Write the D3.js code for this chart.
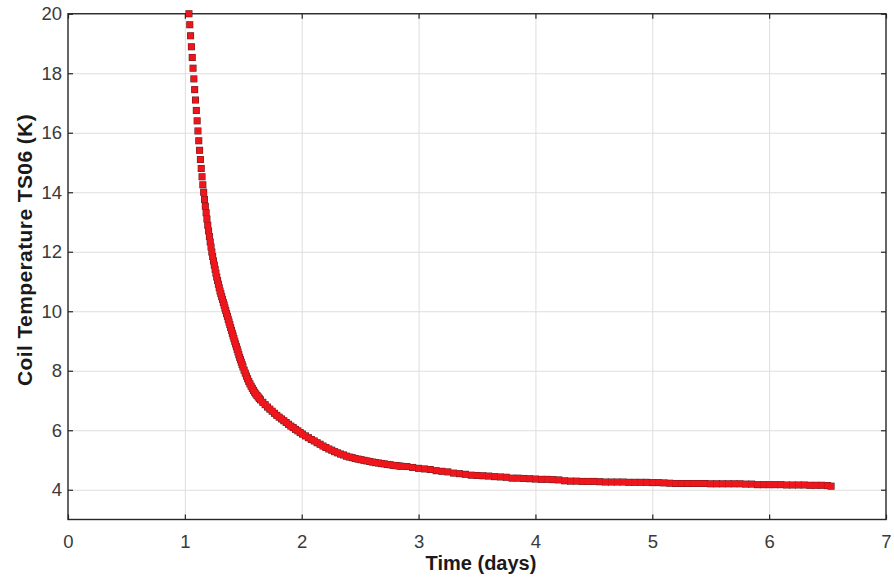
<!DOCTYPE html>
<html>
<head>
<meta charset="utf-8">
<script src="https://d3js.org/d3.v7.min.js"></script>
<style>
    body { margin: 0; background: #fff; }
    svg { display: block; font-family: "Liberation Sans", Arial, Helvetica, sans-serif; }
    .tick text { fill: #3a3a3a; font-size: 18.5px; }
    .label { fill: #1a1a1a; font-weight: bold; font-size: 20px; }
</style>
</head>
<body>
<div id="chart"></div>
<script>
"use strict";

// Time (days) and coil temperature (K)
let timeDays = [
    1.035, 1.042, 1.049, 1.056, 1.063, 1.070, 1.077, 1.084, 1.091, 1.098,
    1.105, 1.112, 1.119, 1.126, 1.133, 1.140, 1.147, 1.154, 1.161, 1.168,
    1.175, 1.182, 1.189, 1.196, 1.203, 1.210, 1.217, 1.224, 1.231, 1.238,
    1.245, 1.252, 1.259, 1.266, 1.273, 1.280, 1.287, 1.294, 1.301,
    1.308, 1.315, 1.322, 1.329, 1.336, 1.343, 1.350, 1.357, 1.364, 1.371,
    1.378, 1.385, 1.392, 1.399, 1.406, 1.413, 1.420, 1.427, 1.434, 1.441,
    1.448, 1.455, 1.462, 1.469, 1.476, 1.483, 1.490, 1.497,
    1.507, 1.517, 1.527, 1.537, 1.547, 1.557, 1.567, 1.577, 1.587, 1.597,
    1.607, 1.617, 1.627, 1.637, 1.647,
    1.667, 1.687, 1.707, 1.727, 1.747, 1.767, 1.787, 1.807, 1.827, 1.847,
    1.867, 1.887, 1.907, 1.927, 1.947, 1.967, 1.987, 2.007,
    2.032, 2.057, 2.082, 2.107, 2.132, 2.157, 2.182, 2.207, 2.232, 2.257,
    2.282, 2.307, 2.332, 2.357, 2.382, 2.407, 2.432, 2.457, 2.482, 2.507,
    2.532, 2.557, 2.582, 2.607, 2.632, 2.657, 2.682, 2.707, 2.732, 2.757,
    2.782, 2.807, 2.832,
    2.85, 2.90, 2.95, 3.00, 3.05, 3.10, 3.15, 3.20, 3.25, 3.30,
    3.35, 3.40, 3.45, 3.50, 3.55, 3.60, 3.65, 3.70, 3.75, 3.80,
    3.85, 3.90, 3.95, 4.00, 4.05, 4.10, 4.15, 4.20, 4.25, 4.30,
    4.35, 4.40, 4.45, 4.50, 4.55, 4.60, 4.65, 4.70, 4.75, 4.80,
    4.85, 4.90, 4.95, 5.00, 5.05, 5.10, 5.15, 5.20, 5.25, 5.30,
    5.35, 5.40, 5.45, 5.50, 5.55, 5.60, 5.65, 5.70, 5.75, 5.80,
    5.85, 5.90, 5.95, 6.00, 6.05, 6.10, 6.15, 6.20, 6.25, 6.30,
    6.35, 6.40, 6.45, 6.50, 6.53
];

let coilTemp = [
    20.00, 19.63, 19.26, 18.89, 18.53, 18.17, 17.81, 17.45, 17.10, 16.75,
    16.40, 16.06, 15.73, 15.41, 15.10, 14.80, 14.52, 14.25, 14.00, 13.76,
    13.53, 13.31, 13.10, 12.89, 12.70, 12.51, 12.33, 12.16, 11.99, 11.84,
    11.69, 11.55, 11.41, 11.28, 11.15, 11.03, 10.91, 10.79, 10.68,
    10.59, 10.49, 10.40, 10.30, 10.21, 10.11, 10.02, 9.92, 9.83, 9.73,
    9.64, 9.55, 9.45, 9.36, 9.26, 9.17, 9.08, 8.99, 8.90, 8.81,
    8.72, 8.63, 8.54, 8.45, 8.37, 8.29, 8.21, 8.13,
    8.02, 7.92, 7.82, 7.73, 7.64, 7.56, 7.48, 7.41, 7.34, 7.28,
    7.22, 7.17, 7.12, 7.07, 7.02,
    6.94, 6.86, 6.78, 6.71, 6.64, 6.57, 6.50, 6.44, 6.38, 6.32,
    6.26, 6.20, 6.14, 6.09, 6.03, 5.98, 5.92, 5.87,
    5.81, 5.75, 5.69, 5.64, 5.58, 5.53, 5.47, 5.42, 5.37, 5.33,
    5.28, 5.24, 5.20, 5.17, 5.13, 5.10, 5.08, 5.05, 5.03, 5.01,
    4.99, 4.97, 4.95, 4.93, 4.91, 4.90, 4.88, 4.87, 4.85, 4.84,
    4.82, 4.81, 4.80,
    4.79, 4.78, 4.75, 4.72, 4.70, 4.68, 4.64, 4.62, 4.60, 4.56,
    4.54, 4.52, 4.49, 4.48, 4.47, 4.46, 4.44, 4.43, 4.42, 4.39,
    4.39, 4.38, 4.37, 4.36, 4.35, 4.35, 4.34, 4.33, 4.30, 4.29,
    4.29, 4.28, 4.28, 4.28, 4.27, 4.26, 4.26, 4.26, 4.26, 4.25,
    4.25, 4.25, 4.25, 4.24, 4.24, 4.23, 4.22, 4.21, 4.21, 4.21,
    4.21, 4.21, 4.21, 4.20, 4.20, 4.20, 4.20, 4.20, 4.20, 4.19,
    4.19, 4.17, 4.17, 4.17, 4.17, 4.17, 4.16, 4.16, 4.16, 4.16,
    4.15, 4.15, 4.15, 4.14, 4.12
];

let xTicks = [0, 1, 2, 3, 4, 5, 6, 7];
let yTicks = [4, 6, 8, 10, 12, 14, 16, 18, 20];

function drawChart() {

    let width = 894;
    let height = 582;
    let left = 68;
    let right = 886;
    let top = 13.75;
    let bottom = 519.5;
    let markerSize = 6;
    let edgeSize = 7;

    let xScale = d3.scaleLinear().domain([0, 7]).range([left, right]);
    let yScale = d3.scaleLinear().domain([3, 20]).range([bottom, top]);

    let svg = d3.select("#chart").append("svg")
        .attr("width", width).attr("height", height);

    // Grid lines
    svg.append("g").attr("class", "grid")
        .attr("transform", `translate(0,${bottom})`)
        .call(d3.axisBottom(xScale).tickValues(xTicks.slice(1, -1))
            .tickSize(-(bottom - top)).tickFormat(""));
    svg.append("g").attr("class", "grid")
        .attr("transform", `translate(${left},0)`)
        .call(d3.axisLeft(yScale).tickValues(yTicks.slice(0, -1))
            .tickSize(-(right - left)).tickFormat(""));
    svg.selectAll(".grid .domain").remove();
    svg.selectAll(".grid line").attr("stroke", "#dedede").attr("stroke-width", 1);

    // Axes with inward ticks on all four sides
    let xAxis = svg.append("g").attr("transform", `translate(0,${bottom})`)
        .call(d3.axisBottom(xScale).tickValues(xTicks)
            .tickSizeInner(-5).tickSizeOuter(0).tickPadding(15)
            .tickFormat(d3.format("d")));
    let yAxis = svg.append("g").attr("transform", `translate(${left},0)`)
        .call(d3.axisLeft(yScale).tickValues(yTicks)
            .tickSizeInner(-5).tickSizeOuter(0).tickPadding(6)
            .tickFormat(d3.format("d")));
    let xTop = svg.append("g").attr("transform", `translate(0,${top})`)
        .call(d3.axisTop(xScale).tickValues(xTicks)
            .tickSizeInner(-5).tickSizeOuter(0).tickFormat(""));
    let yRight = svg.append("g").attr("transform", `translate(${right},0)`)
        .call(d3.axisRight(yScale).tickValues(yTicks)
            .tickSizeInner(-5).tickSizeOuter(0).tickFormat(""));

    [xAxis, yAxis, xTop, yRight].forEach(function (g) {
        g.select(".domain").remove();
        g.selectAll("line").attr("stroke", "#262626").attr("stroke-width", 1.2);
        g.selectAll("text").attr("font-family", null).attr("font-size", null);
    });

    // Box
    svg.append("rect")
        .attr("x", left).attr("y", top)
        .attr("width", right - left).attr("height", bottom - top)
        .attr("fill", "none").attr("stroke", "#262626").attr("stroke-width", 1.4);

    // Square markers: dark edge layer first, red faces on top,
    // so overlapping markers only show their outer edge
    let layers = [[edgeSize, "#5c1717"], [markerSize, "#ee161c"]];
    layers.forEach(function (layer) {
        let size = layer[0];
        svg.append("g").selectAll("rect").data(timeDays).enter()
            .append("rect")
            .attr("x", function (d) {
                return xScale(d) - size / 2;
            })
            .attr("y", function (d, i) {
                return yScale(coilTemp[i]) - size / 2;
            })
            .attr("width", size).attr("height", size)
            .attr("fill", layer[1]);
    });

    // Axis labels
    svg.append("text").attr("class", "label")
        .attr("x", (left + right) / 2 + 4).attr("y", 570)
        .style("text-anchor", "middle").text("Time (days)");
    svg.append("text").attr("class", "label")
        .attr("transform", "rotate(-90)")
        .attr("x", -250).attr("y", 32)
        .style("font-size", "21px").style("letter-spacing", "0.4px")
        .style("text-anchor", "middle").text("Coil Temperature TS06 (K)");
}

window.onload = function () {
    drawChart();
};
</script>
</body>
</html>
